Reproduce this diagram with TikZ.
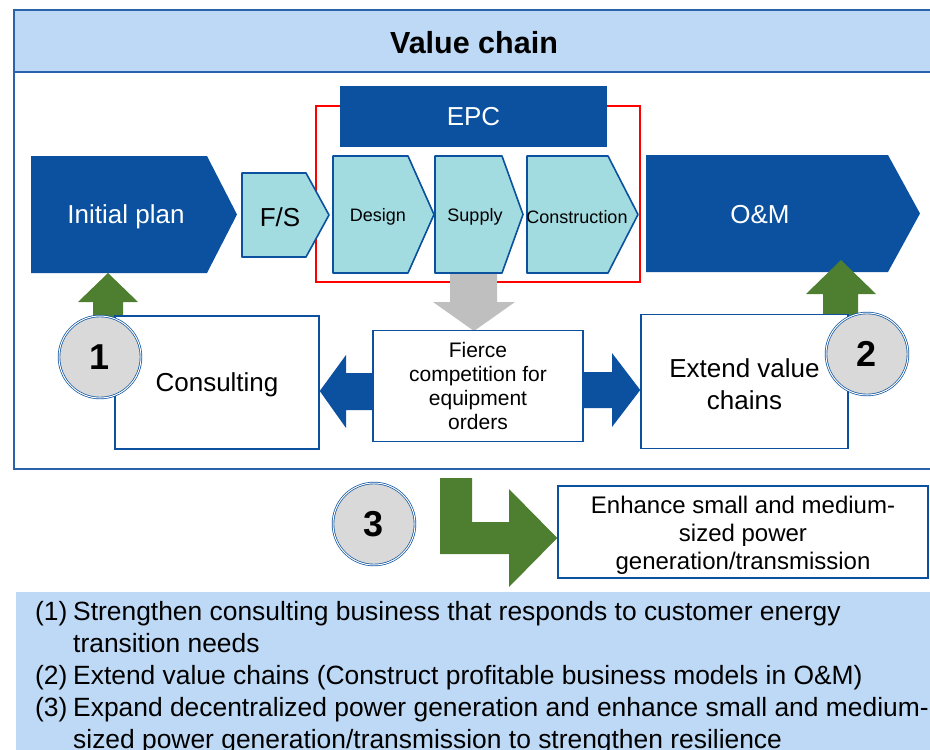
\documentclass[tikz,border=0pt]{standalone}
\usepackage{fontspec}
\setmainfont{Liberation Sans}
\definecolor{dblue}{HTML}{0B519F}
\definecolor{fblue}{HTML}{2A62AC}
\definecolor{band}{HTML}{BDD9F6}
\definecolor{cyanfill}{HTML}{A2DBE0}
\definecolor{garrow}{HTML}{4E7F31}
\definecolor{grayarrow}{HTML}{BFBFBF}
\definecolor{circgray}{HTML}{D9D9D9}
\newcommand\vchev[6]{\draw[#1] (#2,#3) -- (#4,#3) -- (#5,{(#3+#6)/2}) -- (#4,#6) -- (#2,#6) -- cycle;}
\tikzset{
  frame/.style={draw=fblue, line width=1.6pt},
  dark/.style={fill=dblue, draw=none},
  light/.style={fill=cyanfill, draw=dblue, line width=1.6pt, line join=round},
  wtext/.style={text=white, inner sep=0pt, font=\fontsize{26}{31}\selectfont},
  btext/.style={text=black, inner sep=0pt, align=center},
  box/.style={draw=dblue, fill=white, line width=1.5pt, align=center, inner sep=0pt},
  circ/.style={circle, minimum size=82pt, inner sep=0pt, fill=circgray, draw=dblue,
    double=white, double distance=1pt, line width=0.7pt, font=\fontsize{36}{40}\selectfont\bfseries},
  listtext/.style={anchor=base west, inner sep=0pt, font=\fontsize{26.4}{32}\selectfont},
}
\begin{document}
\begin{tikzpicture}[x=1pt,y=-1pt]
\useasboundingbox (0,0) rectangle (930,750);
\clip (0,0) rectangle (930,750);
% frame and title band
\draw[frame, fill=band] (14,10) rectangle (950,72);
\draw[frame] (14,72) -- (14,469) -- (950,469);
\node[inner sep=0pt, font=\fontsize{30.5}{36}\selectfont\bfseries] (title) at (474,43) {Value chain};
% red EPC frame
\draw[red, line width=1.8pt] (316,106) rectangle (640,282);
% gray arrow
\fill[grayarrow] (450,270) -- (497,270) -- (497,302) -- (515,302) -- (474,331) -- (433,302) -- (450,302) -- cycle;
% chevrons
\vchev{dark}{31}{156}{207}{237}{273}
\vchev{light}{242}{173}{306}{329}{257}
\vchev{light}{333}{156}{408}{434}{273}
\vchev{light}{435}{156}{502}{523}{273}
\vchev{light}{527}{156}{608}{638}{273}
\vchev{dark}{646}{155}{888}{920}{272}
\node[wtext] (init) at (126,217) {Initial plan};
\node[btext, font=\fontsize{26}{31}\selectfont] (fs) at (280,217) {F/S};
\node[btext, font=\fontsize{18}{22}\selectfont] (design) at (378,217) {Design};
\node[btext, font=\fontsize{18}{22}\selectfont] (supply) at (475,217) {Supply};
\node[btext, font=\fontsize{18}{22}\selectfont] (constr) at (577,217) {Construction};
\node[wtext] (om) at (760,215) {O\&M};
% EPC box
\node[dark, minimum width=267pt, minimum height=61pt, inner sep=0pt, text=white,
  font=\fontsize{26}{31}\selectfont] (epc) at (473.5,116.5) {EPC};
% green up arrows
\fill[garrow] (93,320) -- (93,302) -- (78,302) -- (108,273) -- (138,302) -- (123,302) -- (123,320) -- cycle;
\fill[garrow] (823,318) -- (823,294) -- (806,294) -- (841,260) -- (876,294) -- (858,294) -- (858,318) -- cycle;
% boxes
\node[box, minimum width=204pt, minimum height=133pt] (cons) at (217,382.5) {};
\node[btext, font=\fontsize{26}{31}\selectfont] (constext) at (217,385) {Consulting};
\node[box, minimum width=210pt, minimum height=111pt, font=\fontsize{21}{24}\selectfont] (fierce) at (478,386) {Fierce\\competition for\\equipment\\orders};
\node[box, minimum width=207pt, minimum height=134pt] (extend) at (744.5,381.5) {};
\node[btext, font=\fontsize{26}{32}\selectfont] (extendtext) at (744.5,384) {Extend value\\chains};
% blue connectors
\fill[dblue] (cons.east |- 0,391) -- (346,355) -- (346,373) -- (fierce.west |- 0,373) -- (fierce.west |- 0,410) -- (346,410) -- (346,428) -- cycle;
\fill[dblue] (fierce.east |- 0,372) -- (612,372) -- (612,353) -- (extend.west |- 0,390) -- (612,427) -- (612,408) -- (fierce.east |- 0,408) -- cycle;
% circles
\node[circ] (c1) at (100,357) {1};
\node[circ] (c2) at (867,354) {2};
% bottom row
\node[circ] (c3) at (374,524) {3};
\node[box, minimum width=370pt, minimum height=92pt] (enh) at (743,532) {};
\node[btext, font=\fontsize{24}{28}\selectfont] (enhtext) at (743,535) {Enhance small and medium-\\sized power\\generation/transmission};
\fill[garrow] (440,478) -- (472,478) -- (472,522) -- (509,522) -- (509,489) -- (enh.west |- 0,538) -- (509,587) -- (509,554) -- (440,554) -- cycle;
% bottom band
\fill[band] (16,592) rectangle (950,760);
\node[listtext] (n1) at (35,620) {(1)};
\node[listtext] (t1a) at (73,620) {Strengthen consulting business that responds to customer energy};
\node[listtext] (t1b) at (73,652) {transition needs};
\node[listtext] (n2) at (35,684) {(2)};
\node[listtext] (t2) at (73,684) {Extend value chains (Construct profitable business models in O\&M)};
\node[listtext] (n3) at (35,716) {(3)};
\node[listtext] (t3a) at (73,716) {Expand decentralized power generation and enhance small and medium-};
\node[listtext] (t3b) at (73,748) {sized power generation/transmission to strengthen resilience};
\end{tikzpicture}
\end{document}
